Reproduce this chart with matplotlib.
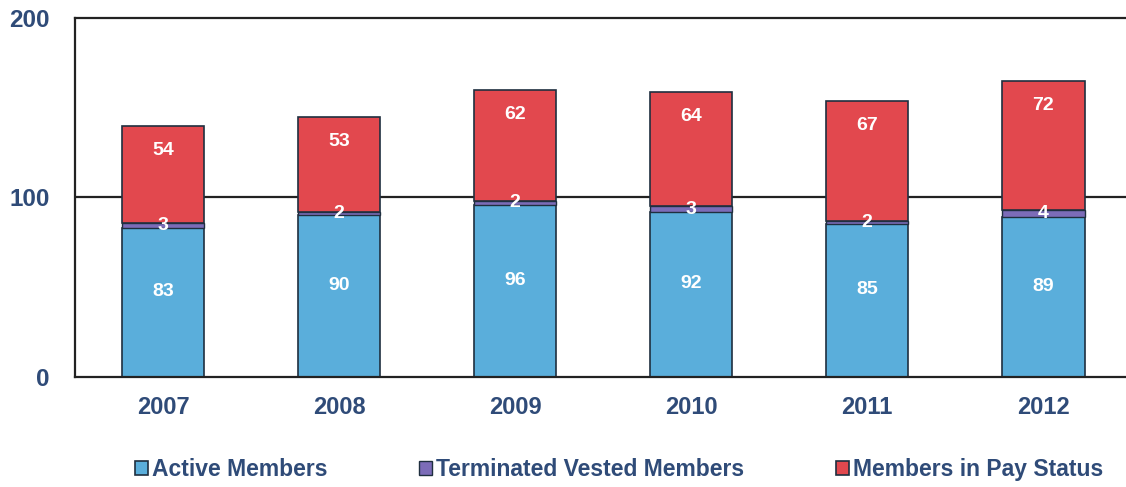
import matplotlib.pyplot as plt
import numpy as np

plt.rcParams['font.family'] = ['Liberation Sans', 'DejaVu Sans']

years = ['2007', '2008', '2009', '2010', '2011', '2012']
active = [83, 90, 96, 92, 85, 89]
terminated = [3, 2, 2, 3, 2, 4]
pay_status = [54, 53, 62, 64, 67, 72]

c_active = '#5aaedb'
c_term = '#7c6cb8'
c_pay = '#e2484e'
c_text = '#2f4b78'

x = np.arange(len(years))
w = 0.47

fig = plt.figure(figsize=(11.26, 4.87), dpi=100)
ax = fig.add_axes([0.0666, 0.226, 0.938, 0.737])

ax.axhline(100, color='#222222', lw=1.6, zorder=1)

b1 = ax.bar(x, active, w, color=c_active, edgecolor='#1f2f3f', lw=1.2, zorder=2,
            label='Active Members')
b2 = ax.bar(x, terminated, w, bottom=active, color=c_term, edgecolor='#1f2f3f', lw=1.0,
            zorder=2, label='Terminated Vested Members')
base = np.array(active) + np.array(terminated)
b3 = ax.bar(x, pay_status, w, bottom=base, color=c_pay, edgecolor='#1f2f3f', lw=1.2,
            zorder=2, label='Members in Pay Status')

lbl = dict(color='white', fontsize=14, fontweight='bold', ha='center', va='center', zorder=3)
for i in range(len(years)):
    ax.text(x[i], active[i] / 2 + 6, str(active[i]), **lbl)
    ax.text(x[i], active[i] + terminated[i] / 2, str(terminated[i]), **lbl)
    ax.text(x[i], base[i] + pay_status[i] - 14, str(pay_status[i]), **lbl)

ax.set_xlim(-0.5, len(years) - 0.5)
ax.set_ylim(0, 200)
ax.set_yticks([0, 100, 200])
ax.set_xticks(x)
ax.set_xticklabels(years)
ax.tick_params(length=0, labelsize=17.5, labelcolor=c_text, pad=18)
ax.tick_params(axis='x', labelsize=17, pad=14)
for t in ax.get_xticklabels() + ax.get_yticklabels():
    t.set_fontweight('bold')

for side in ['left', 'top', 'bottom']:
    ax.spines[side].set_color('#222222')
    ax.spines[side].set_linewidth(1.6)
ax.spines['right'].set_visible(False)

leg = fig.legend(handles=[b1, b2, b3], loc='center', bbox_to_anchor=(0.550, 0.035), ncol=3,
                 frameon=False, handlelength=0.55, handleheight=0.55, handletextpad=0.2,
                 columnspacing=4.0, prop={'size': 16.5, 'weight': 'bold'})
for t in leg.get_texts():
    t.set_color(c_text)

fig.savefig('out.png', dpi=100)
